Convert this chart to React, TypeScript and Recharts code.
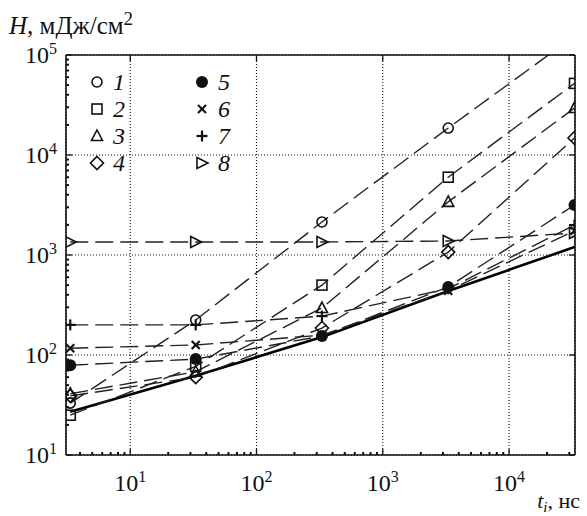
import { CartesianGrid, Legend, Line, LineChart, XAxis, YAxis } from 'recharts';

// pulse duration t_i, ns
const tValues = [3.35, 33, 330, 3300, 33000];

// fluence H, mJ/cm2, per curve
const h1 = [33, 224, 2140, 18600, 155000];
const h2 = [25, 77, 500, 6000, 52000];
const h3 = [41, 68, 295, 3400, 29500];
const h4 = [39, 60, 186, 1070, 14800];
const h5 = [79, 91, 155, 480, 3160];
const h6 = [117, 126, 158, 440, 1750];
const h7 = [200, 200, 245, 460, 1990];
const h8 = [1350, 1350, 1350, 1380, 1660];
const hSolid = [27, 62, 151, 436, 1200];

const seriesLabels = ['1', '2', '3', '4', '5', '6', '7', '8'];
const seriesMarkers = ['circle', 'square', 'triangle', 'diamond', 'disc', 'cross', 'plus', 'tri-right'];

const xMajor = [10, 100, 1000, 10000];
const yMajor = [10, 100, 1000, 10000, 100000];
const minorSteps = [2, 3, 4, 5, 6, 7, 8, 9];
const xMinor = [1, 10, 100, 1000, 10000].flatMap((d) => minorSteps.map((m) => m * d)).filter((v) => v > 3.2 && v < 33000);
const yMinor = [10, 100, 1000, 10000].flatMap((d) => minorSteps.map((m) => m * d));

const X_DOMAIN = [3.1, 33300];
const Y_DOMAIN = [10, 100000];

const series = [h1, h2, h3, h4, h5, h6, h7, h8];
const data = tValues.map((t, i) => {
    const row: Record<string, number> = { t, solid: hSolid[i] };
    series.forEach((s, k) => {
        row['h' + (k + 1)] = s[i];
    });
    return row;
});

const FONT = "'Liberation Serif', 'DejaVu Serif', serif";
const INK = '#111';

const isMajor = (v: number) => Math.abs(Math.log10(v) - Math.round(Math.log10(v))) < 1e-6;

const Marker = ({ kind, cx, cy }: { kind: string; cx: number; cy: number }) => {
    const s = { fill: 'none', stroke: INK, strokeWidth: 1.6 };
    switch (kind) {
        case 'circle':
            return <circle cx={cx} cy={cy} r={5} {...s} />;
        case 'square':
            return <rect x={cx - 5} y={cy - 5} width={10} height={10} {...s} />;
        case 'triangle':
            return <polygon points={`${cx},${cy - 6} ${cx + 5.5},${cy + 4.5} ${cx - 5.5},${cy + 4.5}`} {...s} />;
        case 'diamond':
            return <polygon points={`${cx},${cy - 6.5} ${cx + 6.5},${cy} ${cx},${cy + 6.5} ${cx - 6.5},${cy}`} {...s} />;
        case 'disc':
            return <circle cx={cx} cy={cy} r={6} fill={INK} stroke="none" />;
        case 'cross':
            return (
                <g stroke={INK} strokeWidth={2.2}>
                    <line x1={cx - 4} y1={cy - 4} x2={cx + 4} y2={cy + 4} />
                    <line x1={cx - 4} y1={cy + 4} x2={cx + 4} y2={cy - 4} />
                </g>
            );
        case 'plus':
            return (
                <g stroke={INK} strokeWidth={2.2}>
                    <line x1={cx - 5.5} y1={cy} x2={cx + 5.5} y2={cy} />
                    <line x1={cx} y1={cy - 5.5} x2={cx} y2={cy + 5.5} />
                </g>
            );
        default:
            return <polygon points={`${cx - 5},${cy - 5.5} ${cx + 6},${cy} ${cx - 5},${cy + 5.5}`} {...s} />;
    }
};

const dotFor = (kind: string) => (p: any) =>
    p.cx == null || p.cy == null ? <g key={p.index} /> : <Marker key={p.index} kind={kind} cx={p.cx} cy={p.cy} />;

const Pow = ({ v }: { v: number }) => (
    <>
        10<tspan dy={-9} fontSize={16}>{Math.round(Math.log10(v))}</tspan>
    </>
);

const BottomTick = (p: any) => {
    const major = isMajor(p.payload.value);
    return (
        <g>
            <line x1={p.x} y1={p.y} x2={p.x} y2={p.y - (major ? 6 : 3)} stroke={INK} strokeWidth={major ? 1.3 : 2} />
            {major && (
                <text x={p.x} y={p.y + 36} textAnchor="middle" fontFamily={FONT} fontSize={24} fill={INK}>
                    <Pow v={p.payload.value} />
                </text>
            )}
        </g>
    );
};

const LeftTick = (p: any) => {
    const major = isMajor(p.payload.value);
    return (
        <g>
            <line x1={p.x} y1={p.y} x2={p.x + (major ? 6 : 3)} y2={p.y} stroke={INK} strokeWidth={major ? 1.3 : 2} />
            {major && (
                <text x={p.x - 9} y={p.y + 8} textAnchor="end" fontFamily={FONT} fontSize={24} fill={INK}>
                    <Pow v={p.payload.value} />
                </text>
            )}
        </g>
    );
};

const TopTick = (p: any) => (
    <line x1={p.x} y1={p.y} x2={p.x} y2={p.y + 6} stroke={INK} strokeWidth={1.3} />
);

const RightTick = (p: any) => (
    <line x1={p.x} y1={p.y} x2={p.x - 6} y2={p.y} stroke={INK} strokeWidth={1.3} />
);

const LegendBox = () => (
    <svg width={170} height={110} style={{ overflow: 'visible' }}>
        {seriesLabels.map((label, i) => {
            const col = Math.floor(i / 4);
            const row = i % 4;
            const cx = 12 + col * 105;
            const cy = 14 + row * 27;
            return (
                <g key={label}>
                    <Marker kind={seriesMarkers[i]} cx={cx} cy={cy} />
                    <text x={cx + 16} y={cy + 8} fontFamily={FONT} fontStyle="italic" fontSize={24} fill={INK}>
                        {label}
                    </text>
                </g>
            );
        })}
    </svg>
);

const dashed = { stroke: '#222', strokeWidth: 1.4, strokeDasharray: '18 7', isAnimationActive: false, type: 'linear' as const };

export default function App() {
    return (
        <div style={{ position: 'absolute', left: 0, top: 0, width: 587, height: 516, background: '#fff' }}>
            <LineChart width={587} height={516} data={data} margin={{ top: 51, right: 8, bottom: 0, left: 0 }}>
                <CartesianGrid xAxisId="top" yAxisId="right" stroke={INK} strokeDasharray="1 2" strokeWidth={1.1} />
                <XAxis
                    dataKey="t"
                    type="number"
                    scale="log"
                    domain={X_DOMAIN}
                    allowDataOverflow
                    ticks={[...xMajor, ...xMinor]}
                    interval={0}
                    height={61}
                    tickSize={0}
                    tickMargin={0}
                    tickLine={false}
                    axisLine={{ stroke: INK, strokeWidth: 1.6 }}
                    tick={BottomTick}
                />
                <XAxis
                    xAxisId="top"
                    orientation="top"
                    dataKey="t"
                    type="number"
                    scale="log"
                    domain={X_DOMAIN}
                    allowDataOverflow
                    ticks={xMajor}
                    interval={0}
                    height={4}
                    tickSize={0}
                    tickMargin={0}
                    tickLine={false}
                    axisLine={{ stroke: INK, strokeWidth: 1.6 }}
                    tick={TopTick}
                />
                <YAxis
                    type="number"
                    scale="log"
                    domain={Y_DOMAIN}
                    allowDataOverflow
                    ticks={[...yMajor, ...yMinor]}
                    interval={0}
                    width={66}
                    tickSize={0}
                    tickMargin={0}
                    tickLine={false}
                    axisLine={{ stroke: INK, strokeWidth: 1.6 }}
                    tick={LeftTick}
                />
                <YAxis
                    yAxisId="right"
                    orientation="right"
                    type="number"
                    scale="log"
                    domain={Y_DOMAIN}
                    allowDataOverflow
                    ticks={yMajor}
                    interval={0}
                    width={4}
                    tickSize={0}
                    tickMargin={0}
                    tickLine={false}
                    axisLine={{ stroke: INK, strokeWidth: 1.6 }}
                    tick={RightTick}
                />
                <Legend
                    layout="horizontal"
                    verticalAlign="middle"
                    align="center"
                    wrapperStyle={{ left: 85, top: 68, width: 170, height: 110 }}
                    content={() => <LegendBox />}
                />
                <Line dataKey="solid" stroke="#000" strokeWidth={2.6} dot={false} isAnimationActive={false} type="linear" />
                <Line dataKey="h8" {...dashed} dot={dotFor('tri-right')} />
                <Line dataKey="h7" {...dashed} dot={dotFor('plus')} />
                <Line dataKey="h6" {...dashed} dot={dotFor('cross')} />
                <Line dataKey="h4" {...dashed} dot={dotFor('diamond')} />
                <Line dataKey="h3" {...dashed} dot={dotFor('triangle')} />
                <Line dataKey="h2" {...dashed} dot={dotFor('square')} />
                <Line dataKey="h1" {...dashed} dot={dotFor('circle')} />
                <Line dataKey="h5" {...dashed} dot={dotFor('disc')} />
            </LineChart>
            <svg width={587} height={516} style={{ position: 'absolute', left: 0, top: 0, pointerEvents: 'none' }}>
                <text x={9} y={34} fontFamily={FONT} fontSize={25} fill={INK}>
                    <tspan fontStyle="italic">H</tspan>, мДж/см<tspan dy={-9} fontSize={19}>2</tspan>
                </text>
                <text x={580} y={508} textAnchor="end" fontFamily={FONT} fontSize={22} fill={INK}>
                    <tspan fontStyle="italic">t</tspan>
                    <tspan dy={4} fontSize={15} fontStyle="italic">i</tspan>
                    <tspan dy={-4}>, нс</tspan>
                </text>
            </svg>
        </div>
    );
}
